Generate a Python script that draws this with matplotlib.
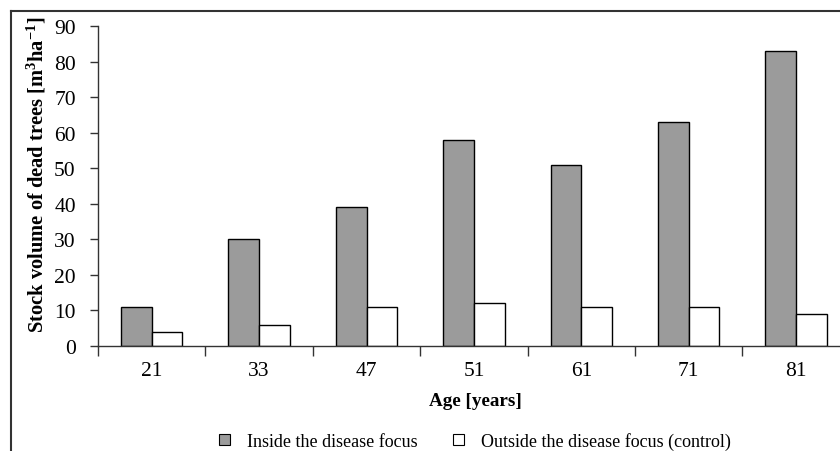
import numpy as np
import matplotlib
matplotlib.use('Agg')
import matplotlib.pyplot as plt
from matplotlib.lines import Line2D
from matplotlib.patches import Patch

plt.rcParams['font.family'] = ['Liberation Serif', 'DejaVu Serif']
plt.rcParams['mathtext.fontset'] = 'custom'
plt.rcParams['mathtext.rm'] = 'Liberation Serif:bold'
plt.rcParams['mathtext.default'] = 'rm'

ages = ['21', '33', '47', '51', '61', '71', '81']
inside = [11, 30, 39, 58, 51, 63, 83]
outside = [4, 6, 11, 12, 11, 11, 9]

fs = 13
tfs = 15.5
fig = plt.figure(figsize=(8.4, 4.52), dpi=100)
ax = fig.add_axes([98 / 840, 1 - 347 / 452, 1 - 98 / 840, 320 / 452])

x = np.arange(len(ages))
w = 0.285
ax.bar(x - w / 2, inside, w, color='#9b9b9b', edgecolor='black', linewidth=1)
ax.bar(x + w / 2, outside, w, color='white', edgecolor='black', linewidth=1)

ax.set_xlim(-0.5, -0.5 + 742 / 107.4)
ax.set_ylim(0, 90)
ax.set_yticks(range(0, 91, 10))
ax.tick_params(axis='y', length=6, width=1, pad=10, labelsize=tfs, color='#333333')

# category labels at centres, tick marks at category boundaries
ax.set_xticks(x)
ax.set_xticklabels(ages)
ax.tick_params(axis='x', which='major', length=0, pad=11, labelsize=tfs)
ax.set_xticks(np.arange(len(ages)) + 0.5 - 1, minor=True)
ax.tick_params(axis='x', which='minor', length=7, width=1, color='#333333')

for s in ['top', 'right']:
    ax.spines[s].set_visible(False)
for s in ['left', 'bottom']:
    ax.spines[s].set_color('#333333')
    ax.spines[s].set_linewidth(1)

ax.set_ylabel(r'Stock volume of dead trees [m$^{3}$ha$^{-1}$]', fontsize=14.8,
              fontweight='bold')
ax.yaxis.set_label_coords(-0.067, 0.5375)
fig.text(475 / 840, 1 - 402 / 452, 'Age [years]', ha='center', va='center',
         fontsize=13.8, fontweight='bold')

handles = [Patch(facecolor='#9b9b9b', edgecolor='black', linewidth=0.8),
           Patch(facecolor='white', edgecolor='black', linewidth=0.8)]
fig.legend(handles, ['Inside the disease focus', 'Outside the disease focus (control)'],
           loc='center', bbox_to_anchor=(475 / 840, 1 - 442 / 452), ncol=2,
           frameon=False, fontsize=fs, handlelength=0.6, handleheight=0.6,
           handletextpad=0.95, columnspacing=2.0, borderpad=0)

# outer frame (top and left edges visible)
fig.add_artist(Line2D([11 / 840, 1], [1 - 12 / 452, 1 - 12 / 452], color='#333333',
                      linewidth=1.5, transform=fig.transFigure))
fig.add_artist(Line2D([11 / 840, 11 / 840], [0, 1 - 12 / 452], color='#333333',
                      linewidth=1.5, transform=fig.transFigure))

fig.savefig('out.png', dpi=100)
